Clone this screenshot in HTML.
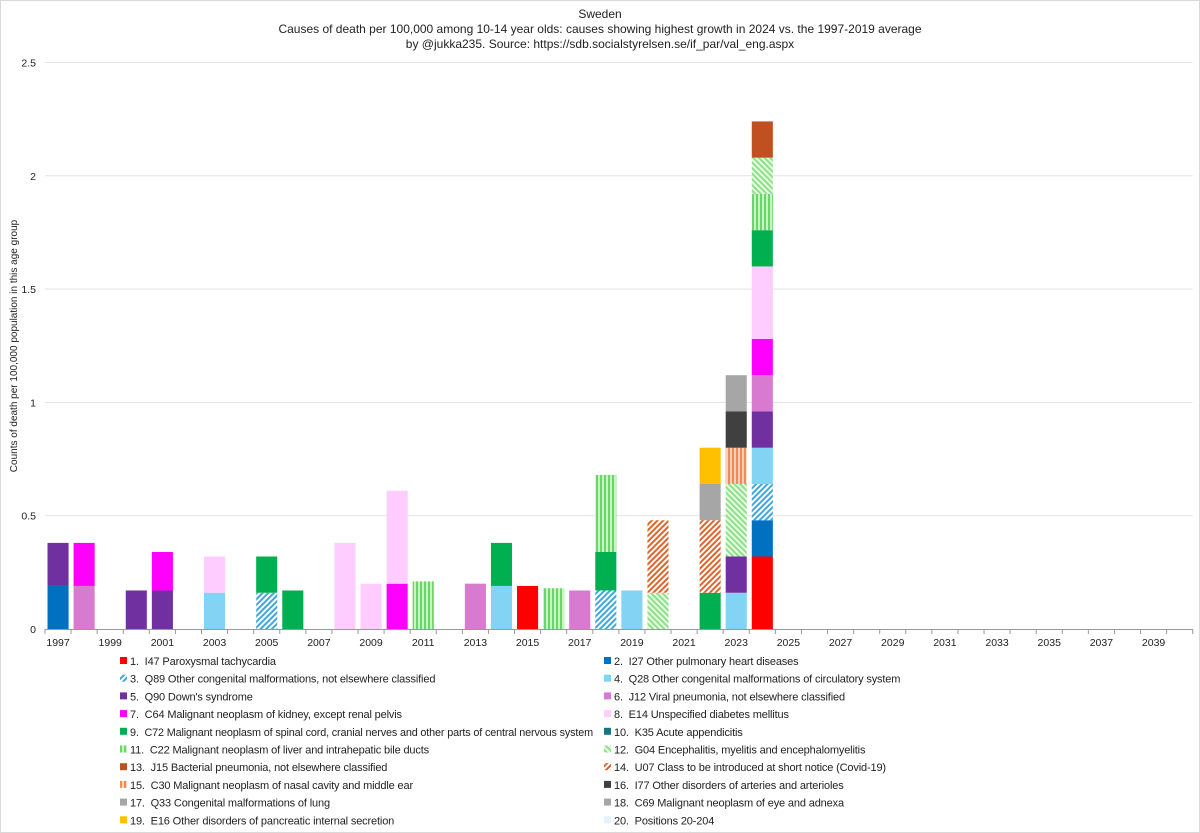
<!DOCTYPE html>
<html><head><meta charset="utf-8"><style>
body{margin:0;background:#fff;font-family:"Liberation Sans",sans-serif;}
#wrap{position:relative;width:1200px;height:833px;overflow:hidden;}
svg text{font-family:"Liberation Sans",sans-serif;fill:#222;}
</style></head><body>
<div id="wrap">
<svg id="chart" width="1200" height="833">
<defs>
<pattern id="p-q89" width="4" height="4" patternUnits="userSpaceOnUse" patternTransform="rotate(45)"><rect width="4" height="4" fill="#fff"/><rect width="2" height="4" fill="#3FA6DE"/></pattern>
<pattern id="p-c22" width="4" height="4" patternUnits="userSpaceOnUse"><rect width="4" height="4" fill="#C6F5C0"/><rect width="2" height="4" fill="#6BD46B"/></pattern>
<pattern id="p-g04" width="4" height="4" patternUnits="userSpaceOnUse" patternTransform="rotate(-45)"><rect width="4" height="4" fill="#E6FBE2"/><rect width="2" height="4" fill="#8EE08A"/></pattern>
<pattern id="p-u07" width="4" height="4" patternUnits="userSpaceOnUse" patternTransform="rotate(45)"><rect width="4" height="4" fill="#fff"/><rect width="2" height="4" fill="#E0642A"/></pattern>
<pattern id="p-c30" width="4" height="4" patternUnits="userSpaceOnUse"><rect width="4" height="4" fill="#FBD0B8"/><rect width="2" height="4" fill="#F08A5A"/></pattern>
</defs>
<rect x="0.5" y="0.5" width="1199" height="832" fill="#fff" stroke="#d9d9d9"/>
<text x="600" y="18" text-anchor="middle" font-size="12">Sweden</text>
<text x="600" y="33" text-anchor="middle" font-size="12">Causes of death per 100,000 among 10-14 year olds: causes showing highest growth in 2024 vs. the 1997-2019 average</text>
<text x="600" y="48" text-anchor="middle" font-size="12">by @jukka235. Source: https://sdb.socialstyrelsen.se/if_par/val_eng.aspx</text>
<text transform="translate(17,346) rotate(-90)" text-anchor="middle" font-size="10">Counts of death per 100,000 population in this age group</text>
<g id="grid"></g><g id="bars"></g><g id="xaxis"></g><g id="legend"></g>
</svg></div>
<script>
const years=[];for(let y=1997;y<=2040;y++)years.push(y);
const yTicks=[0,0.5,1,1.5,2,2.5];
const causes=["1.  I47 Paroxysmal tachycardia","2.  I27 Other pulmonary heart diseases","3.  Q89 Other congenital malformations, not elsewhere classified","4.  Q28 Other congenital malformations of circulatory system","5.  Q90 Down's syndrome","6.  J12 Viral pneumonia, not elsewhere classified","7.  C64 Malignant neoplasm of kidney, except renal pelvis","8.  E14 Unspecified diabetes mellitus","9.  C72 Malignant neoplasm of spinal cord, cranial nerves and other parts of central nervous system","10.  K35 Acute appendicitis","11.  C22 Malignant neoplasm of liver and intrahepatic bile ducts","12.  G04 Encephalitis, myelitis and encephalomyelitis","13.  J15 Bacterial pneumonia, not elsewhere classified","14.  U07 Class to be introduced at short notice (Covid-19)","15.  C30 Malignant neoplasm of nasal cavity and middle ear","16.  I77 Other disorders of arteries and arterioles","17.  Q33 Congenital malformations of lung","18.  C69 Malignant neoplasm of eye and adnexa","19.  E16 Other disorders of pancreatic internal secretion","20.  Positions 20-204"];
const fills=["#FF0000","#0070C0","url(#p-q89)","#83D3F5","#7030A0","#D87BD0","#FF00FF","#FFCCFF","#00B050","#1F6F8B","url(#p-c22)","url(#p-g04)","#C0501F","url(#p-u07)","url(#p-c30)","#404040","#A6A6A6","#A6A6A6","#FFC000","#E6F2FA"];
const stackYears=[1997,1998,2000,2001,2003,2005,2006,2008,2009,2010,2011,2013,2014,2015,2016,2017,2018,2019,2020,2022,2023,2024];
const stackCauses=[[1,4],[5,6],[4],[4,6],[3,7],[2,8],[8],[7],[7],[6,7],[10],[5],[3,8],[0],[10],[5],[2,8,10],[3],[11,13],[8,13,16,18],[3,4,11,14,15,17],[0,1,2,3,4,5,6,7,8,10,11,12]];
const stackValues=[[0.19,0.19],[0.19,0.19],[0.17],[0.17,0.17],[0.16,0.16],[0.16,0.16],[0.17],[0.38],[0.20],[0.20,0.41],[0.21],[0.20],[0.19,0.19],[0.19],[0.18],[0.17],[0.17,0.17,0.34],[0.17],[0.16,0.32],[0.16,0.32,0.16,0.16],[0.16,0.16,0.32,0.16,0.16,0.16],[0.32,0.16,0.16,0.16,0.16,0.16,0.16,0.32,0.16,0.16,0.16,0.16]];

const NS="http://www.w3.org/2000/svg";
const X0=45,X1=1192.7,Y0=629,PPU=226.6;
const slot=(X1-X0)/years.length;
const xOf=y=>X0+(years.indexOf(y))*slot;
const yOf=v=>Y0-v*PPU;
function mk(tag,attrs,parent){const e=document.createElementNS(NS,tag);for(const k in attrs)e.setAttribute(k,attrs[k]);parent.appendChild(e);return e;}
const grid=document.getElementById('grid');
yTicks.forEach(t=>{
  if(t>0){const l=mk('line',{x1:X0,x2:X1,y1:yOf(t),y2:yOf(t),stroke:'#e3e3e3'},grid);
  
  }
  const tx=mk('text',{x:36,y:yOf(t)+4,'text-anchor':'end','font-size':'10.5'},grid);tx.textContent=t;
  
  
});
const bars=document.getElementById('bars');
stackYears.forEach((yr,i)=>{
  let base=0;
  stackCauses[i].forEach((c,j)=>{
    const v=stackValues[i][j];
    const r=mk('rect',{x:xOf(yr)+2.5,width:slot-5,y:yOf(base+v),height:v*PPU,fill:fills[c]},bars);
    
    
    base+=v;
  });
});
const xa=document.getElementById('xaxis');
const ax=mk('line',{x1:X0,x2:X1,y1:Y0+0.5,y2:Y0+0.5,stroke:'#999'},xa);


for(let i=0;i<=years.length;i++){mk('line',{x1:X0+i*slot,x2:X0+i*slot,y1:Y0,y2:Y0+5,stroke:'#999'},xa);}
years.forEach((y,i)=>{if(i%2===0){const t=mk('text',{x:X0+(i+0.5)*slot,y:Y0+17,'text-anchor':'middle','font-size':'10.5'},xa);t.textContent=y;

}});
const lg=document.getElementById('legend');
causes.forEach((c,i)=>{
  const col=i%2,row=Math.floor(i/2);
  const x=col?604:120,y=661+row*17.7;
  const g=mk('g',{},lg);
  
  
  mk('rect',{x:x,y:y-4,width:7,height:7,fill:fills[i]},g);
  const t=mk('text',{x:x+10,y:y+4,'font-size':'11','letter-spacing':'-0.15'},g);t.textContent=c;t.style.whiteSpace='pre';
  if(i===8){t.setAttribute('textLength','463');t.setAttribute('lengthAdjust','spacingAndGlyphs');}
});
</script>
</body></html>
